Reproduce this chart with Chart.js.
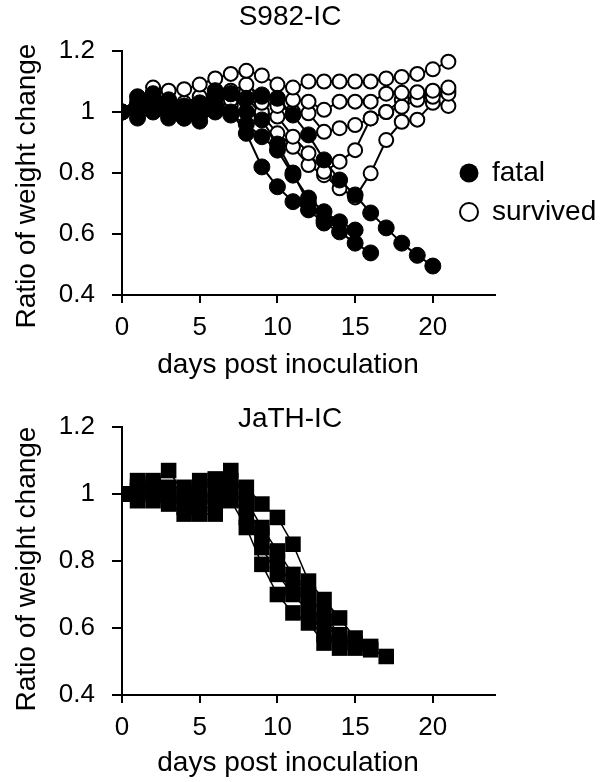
<!DOCTYPE html>
<html>
<head>
<meta charset="utf-8">
<script src="https://cdn.jsdelivr.net/npm/chart.js@4.4.1/dist/chart.umd.min.js"></script>
<style>
html,body{margin:0;padding:0;background:#fff;}
#wrap{position:relative;width:608px;height:782px;overflow:hidden;}
#c1{position:absolute;left:0;top:0;}
#c2{position:absolute;left:0;top:390px;}
</style>
</head>
<body>
<div id="wrap">
<canvas id="c1" width="608" height="390"></canvas>
<canvas id="c2" width="608" height="392"></canvas>
</div>
<script>
// ---------- text ----------
const panelTitles = ['S982-IC', 'JaTH-IC'];
const xAxisTitle = 'days post inoculation';
const yAxisTitle = 'Ratio of weight change';
const legendLabels = ['fatal', 'survived'];

// ---------- ticks ----------
const xTicks = [0, 5, 10, 15, 20];
const yTicks = [0.4, 0.6, 0.8, 1, 1.2];

// ---------- S982-IC (days 0..21) ----------
const daysTop = [0,1,2,3,4,5,6,7,8,9,10,11,12,13,14,15,16,17,18,19,20,21];
const s982Fatal1 = [1.00,0.98,1.00,0.99,0.98,0.97,1.00,1.00,0.93,0.82,0.755,0.706,0.679,0.636,0.607,0.570,0.538];
const s982Fatal2 = [1.00,1.00,1.01,0.98,0.98,0.99,1.01,0.99,0.96,0.919,0.875,0.793,0.718,0.673,0.640,0.613];
const s982Fatal3 = [1.00,1.05,1.06,1.04,1.02,1.03,1.07,1.06,1.00,0.974,0.895,0.80,0.70,0.645];
const s982Fatal4 = [1.00,1.03,1.04,1.02,1.00,1.01,1.05,1.06,1.045,1.056,1.045,0.99,0.925,0.843,0.777,0.728,0.669,0.620,0.570,0.530,0.495];
const s982Surv1 = [1.00,1.04,1.08,1.07,1.075,1.09,1.11,1.125,1.135,1.12,1.09,1.08,1.10,1.10,1.10,1.10,1.10,1.11,1.115,1.125,1.14,1.165];
const s982Surv2 = [1.00,1.03,1.06,1.04,1.03,1.05,1.07,1.07,1.09,1.05,1.045,1.04,1.034,1.007,1.034,1.034,1.034,1.06,1.063,1.065,1.07,1.08];
const s982Surv3 = [1.00,1.02,1.04,1.02,1.00,1.03,1.05,1.06,1.065,1.03,1.02,1.00,0.996,0.935,0.947,0.957,0.979,1.00,1.017,1.04,1.05,1.06];
const s982Surv4 = [1.00,1.00,1.02,1.01,1.00,1.02,1.04,1.04,1.06,1.00,0.985,0.919,0.865,0.804,0.837,0.875,0.979,1.00,1.04,1.05,1.06,1.07];
const s982Surv5 = [1.00,1.01,1.03,1.00,1.00,1.01,1.03,1.02,1.05,0.99,0.93,0.886,0.826,0.793,0.75,0.72,0.799,0.908,0.968,0.975,1.03,1.02];

// ---------- JaTH-IC (days 0..17) ----------
const daysBottom = [0,1,2,3,4,5,6,7,8,9,10,11,12,13,14,15,16,17];
const jath1 = [1.00,1.00,0.98,0.97,0.94,0.94,0.94,0.98,0.90,0.79,0.70,0.645,0.615,0.555];
const jath2 = [1.00,0.98,1.00,0.99,0.96,0.97,0.98,1.00,0.93,0.84,0.76,0.70,0.65,0.58,0.54];
const jath3 = [1.00,1.02,1.03,1.07,1.00,1.02,1.04,1.07,0.98,0.90,0.83,0.76,0.70,0.64,0.58,0.54];
const jath4 = [1.00,1.04,1.04,1.02,1.02,1.04,1.045,1.04,1.02,0.97,0.93,0.85,0.74,0.685,0.63,0.57,0.545];
const jath5 = [1.00,1.01,1.01,1.00,0.98,0.99,1.00,1.02,0.96,0.88,0.80,0.72,0.67,0.62,0.56,0.555,0.535,0.515];

// ---------- helpers ----------
const FONT = "'Liberation Sans', Arial, sans-serif";
const toPts = (days, vals) => vals.map((v, i) => ({x: days[i], y: v}));

function fatalSet(vals) {
  return {data: toPts(daysTop, vals), borderColor:'#000', borderWidth:2,
    pointRadius:8, pointBackgroundColor:'#000', pointBorderColor:'#000', pointBorderWidth:1,
    pointStyle:'circle', showLine:true, fill:false, tension:0};
}
function survSet(vals) {
  return {data: toPts(daysTop, vals), borderColor:'#000', borderWidth:2,
    pointRadius:7, pointBackgroundColor:'#fff', pointBorderColor:'#000', pointBorderWidth:2,
    pointStyle:'circle', showLine:true, fill:false, tension:0};
}
function squareSet(vals) {
  return {data: toPts(daysBottom, vals), borderColor:'#000', borderWidth:1.5,
    pointRadius:11, pointBackgroundColor:'#000', pointBorderColor:'#000', pointBorderWidth:0,
    pointStyle:'rect', showLine:true, fill:false, tension:0};
}

const overlay = {
  id: 'overlay',
  afterDraw(chart, args, o) {
    const ctx = chart.ctx;
    ctx.save();
    ctx.fillStyle = '#000';
    ctx.strokeStyle = '#000';
    ctx.textBaseline = 'middle';
    ctx.textAlign = 'center';
    ctx.font = '28px ' + FONT;
    ctx.fillText(o.title, o.titleX, o.titleY);
    ctx.fillText(xAxisTitle, o.xTitleX, o.xTitleY);
    ctx.save();
    ctx.translate(o.yTitleX, o.yTitleY);
    ctx.rotate(-Math.PI / 2);
    ctx.fillText(yAxisTitle, 0, 0);
    ctx.restore();
    if (o.legend) {
      const L = o.legend;
      ctx.beginPath(); ctx.arc(L.x, L.y1, 9.5, 0, Math.PI * 2); ctx.fill();
      ctx.beginPath(); ctx.lineWidth = 2; ctx.fillStyle = '#fff';
      ctx.arc(L.x, L.y2, 9, 0, Math.PI * 2); ctx.fill(); ctx.stroke();
      ctx.fillStyle = '#000';
      ctx.textAlign = 'left';
      ctx.fillText(legendLabels[0], L.tx, L.y1);
      ctx.fillText(legendLabels[1], L.tx, L.y2);
    }
    ctx.restore();
  }
};

function makeOptions(p) {
  return {
    responsive: false,
    animation: false,
    events: [],
    layout: {padding: {left: 0, right: 608 - p.right, top: p.top, bottom: 0}},
    plugins: {
      legend: {display: false},
      title: {display: false},
      tooltip: {enabled: false},
      overlay: p.overlay
    },
    scales: {
      x: {
        type: 'linear', min: 0, max: 24,
        afterBuildTicks: s => { s.ticks = xTicks.map(v => ({value: v})); },
        afterFit: s => { s.height = p.canvasH - p.bottom; },
        border: {display: true, color: '#000', width: 2},
        grid: {display: true, drawOnChartArea: false, drawTicks: true, tickLength: 8, color: '#000', lineWidth: 2},
        ticks: {color: '#000', padding: 9, font: {family: FONT, size: 26}, maxRotation: 0, autoSkip: false}
      },
      y: {
        type: 'linear', min: 0.4, max: 1.2,
        afterBuildTicks: s => { s.ticks = yTicks.map(v => ({value: v})); },
        afterFit: s => { s.width = p.left; },
        border: {display: true, color: '#000', width: 2},
        grid: {display: true, drawOnChartArea: false, drawTicks: true, tickLength: 10, color: '#000', lineWidth: 2},
        ticks: {color: '#000', padding: 17, font: {family: FONT, size: 26}, callback: v => String(v), autoSkip: false}
      }
    }
  };
}

new Chart(document.getElementById('c1'), {
  type: 'line',
  data: {datasets: [
    fatalSet(s982Fatal1), fatalSet(s982Fatal2), fatalSet(s982Fatal3), fatalSet(s982Fatal4),
    survSet(s982Surv1), survSet(s982Surv2), survSet(s982Surv3), survSet(s982Surv4), survSet(s982Surv5)
  ]},
  options: makeOptions({
    canvasH: 390, left: 122, right: 495, top: 51, bottom: 295,
    overlay: {title: panelTitles[0], titleX: 290, titleY: 17, xTitleX: 288, xTitleY: 365,
      yTitleX: 27, yTitleY: 186, legend: {x: 469, y1: 173, y2: 212, tx: 492}}
  }),
  plugins: [overlay]
});

new Chart(document.getElementById('c2'), {
  type: 'line',
  data: {datasets: [squareSet(jath1), squareSet(jath2), squareSet(jath3), squareSet(jath4), squareSet(jath5)]},
  options: makeOptions({
    canvasH: 392, left: 122, right: 495, top: 37, bottom: 305,
    overlay: {title: panelTitles[1], titleX: 290, titleY: 29, xTitleX: 288, xTitleY: 373,
      yTitleX: 27, yTitleY: 179, legend: null}
  }),
  plugins: [overlay]
});
</script>
</body>
</html>
